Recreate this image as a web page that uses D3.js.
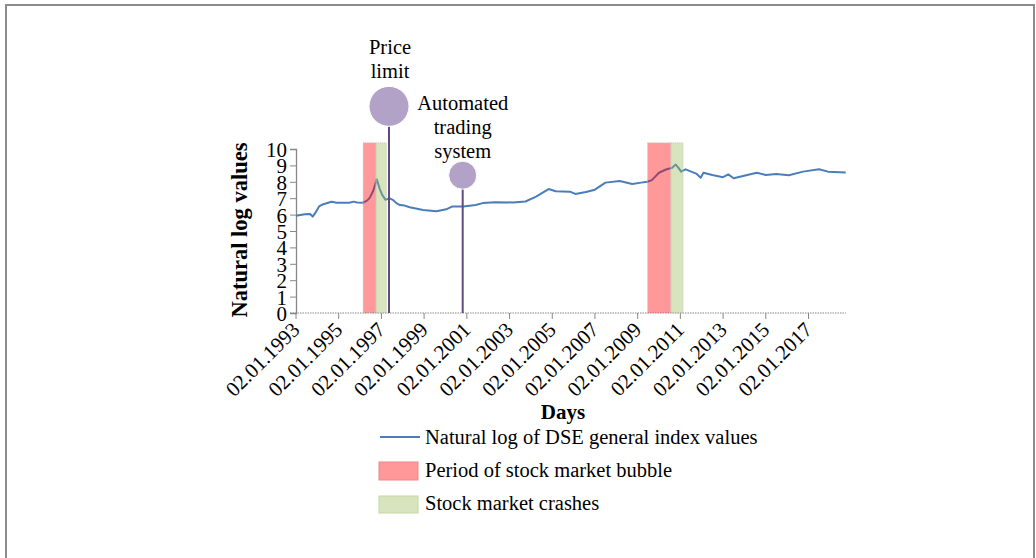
<!DOCTYPE html>
<html>
<head>
<meta charset="utf-8">
<script src="https://cdn.jsdelivr.net/npm/d3@7"></script>
<style>
  body { margin: 0; background: #fff; }
  svg text { font-family: "Liberation Serif", "Times New Roman", serif; fill: #000; }
</style>
</head>
<body>
<div id="chart"></div>
<script>
// DSE general index, natural log
var dates = ["1993-01-02","1993-06-01","1993-09-01","1993-10-15","1993-12-15","1994-02-01","1994-04-01",
  "1994-09-01","1994-12-01","1995-03-01","1995-07-01","1995-09-15","1995-11-15","1996-02-15","1996-05-01",
  "1996-06-15","1996-08-15","1996-10-15","1996-12-01","1997-01-15","1997-03-15","1997-05-15","1997-07-15",
  "1997-09-15","1997-11-15","1998-02-01","1998-05-01","1998-12-15","1999-08-01","2000-01-15","2000-05-01",
  "2000-11-01","2001-06-01","2001-10-01","2002-05-01","2003-03-01","2003-10-01","2004-04-01","2004-07-01",
  "2004-11-01","2005-03-01","2005-11-01","2006-02-01","2006-08-01","2007-01-01","2007-07-01","2008-03-01",
  "2008-10-01","2009-03-01","2009-06-15","2009-09-01","2010-01-01","2010-05-01","2010-08-15","2010-10-15",
  "2010-12-01","2011-01-15","2011-04-01","2011-10-01","2011-12-15","2012-02-01","2012-07-01","2013-01-01",
  "2013-04-01","2013-07-01","2014-02-01","2014-08-01","2015-01-01","2015-07-01","2016-02-01","2016-10-01",
  "2017-07-01","2017-12-01","2018-09-30"];
var logValues = [5.93,6.02,6.04,5.88,6.2,6.5,6.62,
  6.78,6.72,6.72,6.72,6.79,6.74,6.72,6.85,
  7.02,7.45,8.15,7.6,7.2,6.9,7.0,6.9,
  6.7,6.58,6.55,6.45,6.28,6.2,6.32,6.5,
  6.5,6.58,6.7,6.76,6.74,6.8,7.1,7.3,
  7.56,7.42,7.4,7.26,7.38,7.52,7.95,8.05,
  7.87,7.95,8.0,8.1,8.55,8.75,8.86,9.05,
  8.85,8.62,8.76,8.5,8.25,8.55,8.41,8.28,
  8.45,8.22,8.4,8.55,8.42,8.48,8.4,8.62,
  8.76,8.62,8.57];

var bubblePeriods = [["1996-02-24","1996-10-01"],["2009-06-20","2010-07-23"]];
var crashPeriods = [["1996-10-01","1997-04-01"],["2010-07-23","2011-02-17"]];

var eventLabels = [["Price","limit"],["Automated","trading","system"]];
var eventDates = ["1997-05-12","2000-10-23"];
var eventLevels = [12.6, 8.4];
var eventSizes = [20, 14];

var tickYears = [1993,1995,1997,1999,2001,2003,2005,2007,2009,2011,2013,2015,2017];
var yTicks = [0,1,2,3,4,5,6,7,8,9,10];
var legendLabels = ["Natural log of DSE general index values","Period of stock market bubble","Stock market crashes"];

var width = 1036, height = 558;
var parse = d3.timeParse("%Y-%m-%d");
var serif = "Liberation Serif";

var svg = d3.select("#chart").append("svg")
	.attr("width", width)
	.attr("height", height)
	.attr("font-family", serif);

// outer frame
svg.append("rect")
	.attr("x", 6).attr("y", 5)
	.attr("width", 1028).attr("height", 570)
	.attr("fill", "none")
	.attr("stroke", "#8c8c8c")
	.attr("stroke-width", 2);

var x = d3.scaleTime()
	.domain([parse("1993-01-02"), parse("2018-10-05")])
	.range([296, 846]);

var y = d3.scaleLinear()
	.domain([0, 10])
	.range([313, 149]);

var series = dates.map(function(d, i) { return { date: parse(d), v: logValues[i] }; });

// y axis
var yAxis = svg.append("g")
	.attr("transform", "translate(296,0)")
	.call(d3.axisLeft(y).tickValues(yTicks).tickSize(6).tickPadding(3));
yAxis.attr("font-family", serif);
yAxis.select(".domain").attr("stroke", "#888").attr("stroke-width", 1.3);
yAxis.selectAll(".tick line").attr("stroke", "#888");
yAxis.selectAll(".tick text")
	.attr("font-size", 21)
	.attr("dy", "0.36em");

// x axis: dotted base and major ticks
var xTicks = tickYears.map(function(yr) { return new Date(yr, 0, 2); });
svg.append("line")
	.attr("x1", 290).attr("x2", 846)
	.attr("y1", 313).attr("y2", 313)
	.attr("stroke", "#888")
	.attr("stroke-dasharray", "1.5,1");
svg.selectAll(".xtick")
	.data(xTicks)
	.enter().append("line")
	.attr("class", "xtick")
	.attr("x1", function(d) { return x(d); })
	.attr("x2", function(d) { return x(d); })
	.attr("y1", 313).attr("y2", 319)
	.attr("stroke", "#888");
svg.selectAll(".xlabel")
	.data(xTicks)
	.enter().append("text")
	.attr("class", "xlabel")
	.attr("transform", function(d) { return "translate(" + (x(d) + 5) + ",331) rotate(-45)"; })
	.attr("text-anchor", "end")
	.attr("font-size", 21)
	.text(function(d) { return d3.timeFormat("%d.%m.%Y")(d); });

// index line
svg.append("path")
	.datum(series)
	.attr("fill", "none")
	.attr("stroke", "#4a7ebb")
	.attr("stroke-width", 2)
	.attr("stroke-linejoin", "round")
	.attr("d", d3.line()
		.x(function(d) { return x(d.date); })
		.y(function(d) { return y(d.v); }));

// shaded periods (semi transparent, drawn over the line)
var bandTop = y(10.38);
function bands(data, color, cls) {
	svg.selectAll("." + cls)
		.data(data)
		.enter().append("rect")
		.attr("class", cls)
		.attr("x", function(d) { return x(parse(d[0])); })
		.attr("width", function(d) { return x(parse(d[1])) - x(parse(d[0])); })
		.attr("y", bandTop)
		.attr("height", y(0) - bandTop)
		.attr("fill", color)
		.attr("fill-opacity", 0.4)
		.attr("stroke", "#c8c8c8")
		.attr("stroke-width", 0.8)
		.attr("stroke-dasharray", "1,1");
}
bands(bubblePeriods, "#ff0000", "bubble");
bands(crashPeriods, "#9bbb59", "crash");

// events: drop lines and bubbles
eventDates.forEach(function(d, i) {
	var ex = x(parse(d));
	var ey = y(eventLevels[i]);
	svg.append("line")
		.attr("x1", ex).attr("x2", ex)
		.attr("y1", ey).attr("y2", y(0))
		.attr("stroke", "#604a7b")
		.attr("stroke-width", 2);
	svg.append("circle")
		.attr("cx", ex).attr("cy", ey)
		.attr("r", eventSizes[i])
		.attr("fill", "#b3a2c7")
		.attr("stroke", "#fff")
		.attr("stroke-width", 1);
});

// event labels
var labelTops = [54, 110];
eventLabels.forEach(function(lines, k) {
	var lx = x(parse(eventDates[k])) + (k ? 0 : 1);
	svg.append("text")
		.attr("y", labelTops[k])
		.attr("text-anchor", "middle")
		.attr("font-size", 20.5)
		.selectAll("tspan")
		.data(lines)
		.enter().append("tspan")
		.attr("x", lx)
		.attr("dy", function(d, i) { return i ? 24 : 0; })
		.text(function(d) { return d; });
});

// axis titles
svg.append("text")
	.attr("transform", "translate(247,230) rotate(-90)")
	.attr("text-anchor", "middle")
	.attr("font-size", 22.5)
	.attr("font-weight", "bold")
	.text("Natural log values");

svg.append("text")
	.attr("x", 563).attr("y", 419)
	.attr("text-anchor", "middle")
	.attr("font-size", 21)
	.attr("font-weight", "bold")
	.text("Days");

// legend
var legend = svg.append("g");
legend.append("line")
	.attr("x1", 380).attr("x2", 420)
	.attr("y1", 437).attr("y2", 437)
	.attr("stroke", "#4a7ebb")
	.attr("stroke-width", 1.8);
legend.append("rect")
	.attr("x", 379).attr("y", 462)
	.attr("width", 39).attr("height", 18)
	.attr("fill", "#ff0000").attr("fill-opacity", 0.4)
	.attr("stroke", "#e88").attr("stroke-width", 1);
legend.append("rect")
	.attr("x", 379).attr("y", 496)
	.attr("width", 39).attr("height", 17)
	.attr("fill", "#9bbb59").attr("fill-opacity", 0.4)
	.attr("stroke", "#c5d9a0").attr("stroke-width", 1);
legend.selectAll(".ltext")
	.data(legendLabels)
	.enter().append("text")
	.attr("class", "ltext")
	.attr("x", 425)
	.attr("y", function(d, i) { return [444, 477, 510][i]; })
	.attr("font-size", 20.5)
	.text(function(d) { return d; });
</script>
</body>
</html>
